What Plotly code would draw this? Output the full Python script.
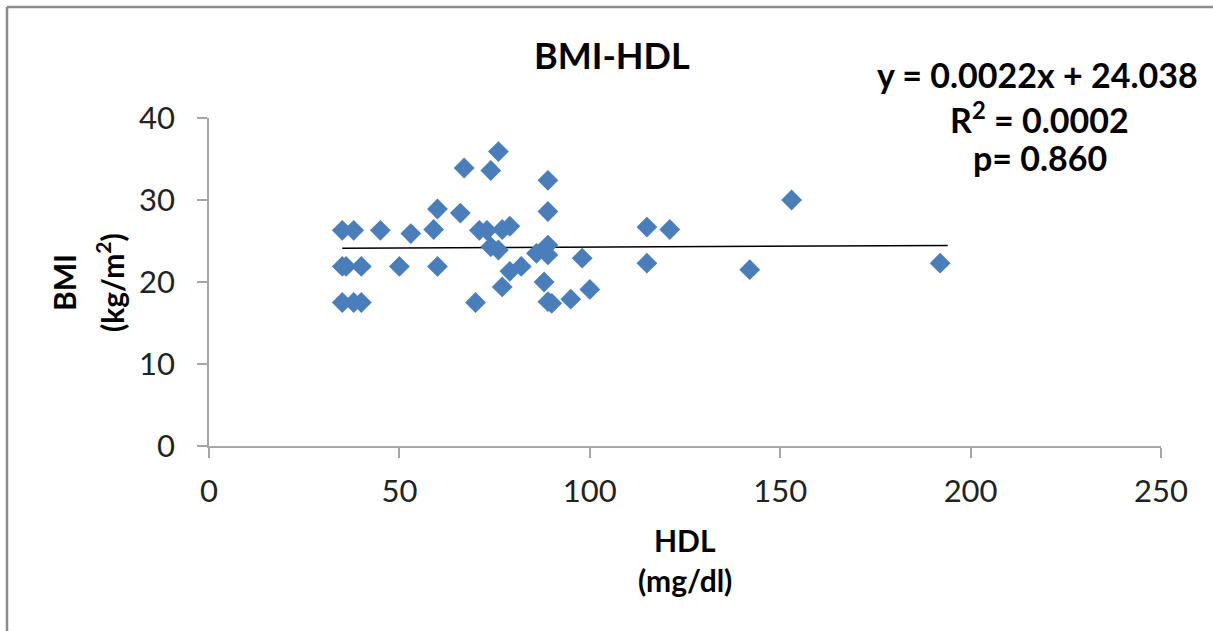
import plotly.graph_objects as go

# Data
hdl = [76, 67, 74, 89, 60, 89, 66, 35, 38, 45, 53, 59, 71, 73, 77, 79, 74, 76, 89, 86,
       89, 98, 115, 121, 115, 35, 36, 40, 50, 60, 79, 82, 88, 77, 35, 38, 40, 70, 89, 90,
       95, 100, 153, 142, 192]
bmi = [35.9, 33.9, 33.6, 32.4, 28.9, 28.6, 28.4, 26.3, 26.3, 26.3, 25.9, 26.4, 26.3, 26.3,
       26.4, 26.8, 24.3, 23.9, 24.5, 23.5, 23.3, 22.9, 26.7, 26.4, 22.3, 21.9, 21.9, 21.9,
       21.9, 21.9, 21.3, 21.9, 20.0, 19.4, 17.5, 17.5, 17.5, 17.5, 17.6, 17.4, 17.9, 19.1,
       30.0, 21.5, 22.3]

slope = 0.0022
intercept = 24.038
trend_x = [min(hdl), max(hdl) + 2]
trend_y = [slope * v + intercept for v in trend_x]

x_ticks = [0, 50, 100, 150, 200, 250]
y_ticks = [0, 10, 20, 30, 40]

title_text = "BMI-HDL"
equation_lines = ["y = 0.0022x + 24.038", "R<sup>2</sup> = 0.0002", "p= 0.860"]
x_title_lines = ["HDL", "(mg/dl)"]
y_title_lines = ["BMI", "(kg/m<sup>2</sup>)"]

W, H = 1213, 631
L, R, T, B = 209, 52, 118, 185
pw, ph = W - L - R, H - T - B

def px(xpix):
    return (xpix - L) / pw

def py(ypix):
    return (H - B - ypix) / ph

fig = go.Figure()
fig.add_trace(go.Scatter(x=trend_x, y=trend_y, mode="lines",
                         line=dict(color="black", width=1.5), showlegend=False,
                         hoverinfo="skip"))
fig.add_trace(go.Scatter(x=hdl, y=bmi, mode="markers",
                         marker=dict(symbol="diamond", size=16, color="#4A7EBB",
                                     line=dict(width=0)),
                         showlegend=False))

axis_common = dict(showline=True, linecolor="#A6A6A6", linewidth=1.5,
                   ticks="outside", ticklen=10, tickcolor="#A6A6A6", tickwidth=1.5,
                   showgrid=False, zeroline=False,
                   tickfont=dict(family="Lato", size=31, color="#222"))

def ann(text, xp, yp, size, angle=0):
    return dict(text="<b>" + text + "</b>", xref="paper", yref="paper",
                x=px(xp), y=py(yp), xanchor="center", yanchor="middle",
                showarrow=False, textangle=angle,
                font=dict(family="Lato", size=size, color="black"))

annotations = [ann(title_text, 612, 55, 36)]
eq_pos = [(1037, 74), (1039, 118), (1040, 157)]
for t, (xp, yp) in zip(equation_lines, eq_pos):
    annotations.append(ann(t, xp, yp, 34))
for t, (xp, yp) in zip(x_title_lines, [(685, 540), (685, 580)]):
    annotations.append(ann(t, xp, yp, 30))
for t, (xp, yp) in zip(y_title_lines, [(64, 283), (110, 283)]):
    annotations.append(ann(t, xp, yp, 30, -90))

fig.update_layout(
    width=W, height=H,
    margin=dict(l=L, r=R, t=T, b=B, pad=0),
    plot_bgcolor="white", paper_bgcolor="white",
    xaxis=dict(range=[0, 250], tickvals=x_ticks, ticklabelstandoff=7, **axis_common),
    yaxis=dict(range=[0, 40], tickvals=y_ticks, ticklabelstandoff=16, **axis_common),
    annotations=annotations,
    shapes=[
        dict(type="line", xref="paper", yref="paper", x0=px(7), x1=px(7),
             y0=py(7), y1=py(700), line=dict(color="#8C8C8C", width=2.5)),
        dict(type="line", xref="paper", yref="paper", x0=px(7), x1=px(1300),
             y0=py(7), y1=py(7), line=dict(color="#8C8C8C", width=2.5)),
    ],
)

fig.write_html("out.html", config={"displayModeBar": False},
               post_script="document.body.style.margin='0';")
